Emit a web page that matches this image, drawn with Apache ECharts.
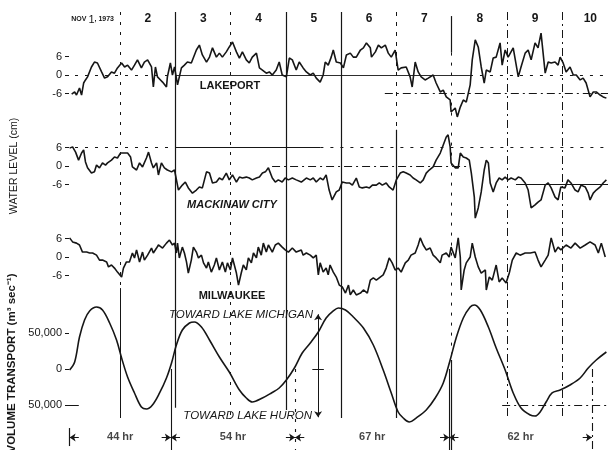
<!DOCTYPE html>
<html><head><meta charset="utf-8">
<script src="https://cdn.jsdelivr.net/npm/echarts@6/dist/echarts.min.js"></script>
<style>html,body{margin:0;padding:0;background:#fff}#c{width:608px;height:450px}</style>
</head><body><div id="c"></div>
<script>
// ---- tick labels / categories ----
const dayLabels = ['NOV 1, 1973','2','3','4','5','6','7','8','9','10'];
const waterTicks = [-6, 0, 6];
const transportTicks = [-50000, 0, 50000];
const dayBoundaries = [24, 48, 72, 96, 120, 144, 168, 192, 216]; // hours after Nov 1 00:00
const periodStart = 2;             // hours
const periodHours = [44, 54, 67, 62];

// ---- series (time in hours after Nov 1 00:00) ----
const tLake = [2.9,4.2,5.0,6.3,7.2,8.1,8.9,9.8,11.5,12.8,14.1,15.9,17.2,18.5,20.2,21.5,22.8,24.6,25.9,27.2,28.9,30.2,31.5,33.2,34.5,35.9,37.6,38.4,39.3,40.2,41.5,42.4,44.1,44.5,45.8,46.7,47.6,48.9,50.6,51.9,53.2,54.9,57.1,58.4,59.7,61.5,62.8,64.1,65.8,67.1,68.4,70.1,71.4,72.8,74.5,75.8,77.1,78.8,80.1,81.4,83.2,84.5,85.8,87.5,88.8,90.1,91.8,93.1,94.4,96.2,97.5,98.8,100.5,101.8,
103.5,104.9,106.6,107.9,109.2,110.9,112.2,113.1,114.4,115.7,116.6,117.9,119.7,121.0,122.3,124.0,125.3,126.6,128.4,129.7,131.0,132.7,133.2,134.9,136.2,137.5,139.2,140.5,141.8,143.5,144.8,146.1,148.3,150.0,150.9,152.2,153.5,154.8,156.5,157.9,160.0,161.3,163.1,164.4,165.7,167.4,167.8,169.6,170.5,171.8,173.1,174.4,176.1,177.0,178.3,179.6,180.9,182.2,183.1,184.8,186.1,187.4,189.1,190.0,191.3,192.6,194.8,197.0,198.2,200.0,201.3,202.6,204.3,205.6,206.9,208.7,210.0,211.3,213.0,214.3,215.2,216.5,217.8,219.5,220.9,222.2,223.9,225.2,226.5,228.2,229.6,230.9,232.6,233.9,235.3];
const vLake = [-6.2,-5.5,-6.5,-4.2,-6.5,-2.6,-1.6,-0.6,2.6,4.2,3.9,1.0,-1.0,-0.6,1.0,0.6,2.3,3.9,2.6,3.2,1.6,3.2,4.9,2.3,4.2,4.9,2.6,-3.9,2.6,-0.6,-1.6,-2.3,-3.9,-0.6,3.9,0,2.6,-3.2,2.3,3.2,4.2,3.9,8.1,9.7,6.5,4.2,5.8,8.8,5.8,7.1,5.8,7.5,9.1,10.7,7.5,5.5,7.5,4.9,3.9,5.8,7.1,2.3,1.6,0.6,1.0,0,1.6,4.2,0,-0.6,5.5,4.9,1.6,4.2,
2.3,1.0,0,0.6,-1.0,-2.3,0,4.2,3.2,5.8,8.1,4.2,3.9,2.3,6.5,7.1,5.8,5.8,8.1,8.8,10.4,8.8,5.8,7.5,9.7,8.8,9.7,7.1,5.8,8.1,1.6,2.3,2.6,-0.6,-3.9,4.2,1.0,-0.6,-1.6,-1.0,0,-2.6,-5.5,-4.9,-7.1,-8.1,-12.0,-10.7,-13.6,-10.4,-8.1,-8.8,-3.2,4.9,11.4,9.1,2.6,-2.6,1.6,1.0,5.5,5.8,10.4,3.2,8.1,5.8,8.8,-0.6,2.6,7.1,8.1,4.9,10.4,8.8,13.6,0.6,4.2,3.9,4.2,3.2,5.8,3.9,1.0,2.6,0,0,-1.6,-1.0,-2.6,-7.1,-5.5,-5.5,-6.5,-7.1,-7.5];

const tMack = [2.0,3.3,4.6,5.9,7.2,8.1,8.9,9.8,11.5,12.8,13.7,15.0,16.3,17.6,18.5,20.2,21.5,22.8,24.1,25.4,27.2,28.5,29.3,31.1,32.4,33.2,33.7,35.4,36.3,37.6,38.4,39.8,40.6,41.9,43.2,44.5,46.3,47.6,48.4,49.3,51.0,52.3,53.6,55.4,57.1,58.4,59.7,61.5,62.8,64.1,65.8,67.1,68.4,70.1,71.4,72.8,74.5,75.8,77.1,78.8,80.1,81.4,83.2,84.5,85.8,87.1,88.4,90.1,91.4,92.7,94.4,95.7,97.1,98.8,100.5,102.7,
103.5,104.9,106.6,107.9,109.2,110.9,112.2,113.5,114.8,116.1,117.9,119.2,120.5,122.3,123.6,124.9,126.6,127.9,129.2,131.0,132.3,133.6,135.3,136.6,137.9,139.6,140.9,142.6,144.0,145.7,147.0,148.3,150.0,151.3,152.6,154.4,155.7,157.0,158.3,160.0,161.3,163.1,164.4,165.7,166.5,167.4,167.8,169.6,170.9,171.8,173.1,174.4,175.7,176.6,177.9,178.3,179.6,180.9,182.2,183.1,184.0,184.8,186.1,187.4,188.7,190.0,191.3,192.6,193.9,195.7,197.0,198.2,200.0,201.3,202.6,204.3,205.6,206.9,208.7,210.0,211.3,213.0,214.3,215.5,217.3,218.6,219.9,221.7,223.0,224.3,226.1,227.4,228.2,229.6,230.9,232.6,233.9,235.3];
const vMack = [5.8,6.2,4.5,1.9,4.2,5.2,1.3,-0.6,-2.3,-1.9,0.3,-0.6,1.0,0.3,1.0,1.9,2.9,2.6,4.2,4.2,4.2,2.9,-0.3,-1.3,1.0,1.3,-0.3,2.6,4.5,1.0,-0.6,1.0,-2.9,1.0,-0.6,-1.3,-1.9,-1.3,-1.9,-7.8,-6.2,-5.2,-7.1,-8.8,-7.8,-6.8,-7.1,-1.9,-2.3,-5.5,-5.2,-3.9,-4.5,-2.3,-4.5,-2.9,-5.2,-3.6,-3.9,-3.6,-3.9,-4.5,-3.9,-3.6,-2.3,-1.9,-0.6,-3.9,-5.2,-4.5,-5.2,-3.9,-4.5,-3.9,-4.5,-5.2,
-5.2,-3.9,-4.5,-3.9,-5.2,-3.9,-4.5,-2.9,-7.8,-11.0,-8.4,-7.8,-5.2,-5.5,-5.5,-6.2,-3.9,-6.8,-7.1,-6.8,-7.1,-6.2,-6.2,-5.5,-6.2,-5.5,-6.8,-7.8,-4.5,-2.3,-1.9,-2.3,-2.9,-3.9,-4.5,-5.5,-4.5,-2.3,-1.3,-0.3,1.9,4.2,6.8,9.4,10.1,6.2,1.0,-0.6,-0.6,4.2,2.9,2.6,1.9,-2.3,-10.1,-16.9,-13.6,-8.4,-1.3,1.9,1.0,-5.5,-8.4,-5.5,-3.9,-4.5,-3.6,-4.5,-3.9,-4.5,-3.6,-3.9,-5.5,-7.8,-13.6,-12.6,-11.7,-11.0,-6.2,-5.5,-7.1,-10.1,-11.0,-6.8,-7.1,-4.5,-5.5,-7.8,-8.4,-6.2,-6.8,-8.8,-11.0,-8.8,-7.8,-6.8,-5.5,-4.5];

const tMilw = [2.0,3.3,5.0,6.3,7.6,9.4,10.7,12.0,13.7,15.0,16.3,18.1,18.9,20.2,21.5,22.8,24.6,25.4,26.7,28.0,29.3,30.2,31.1,32.4,33.7,34.5,35.9,37.6,38.4,39.8,40.6,42.4,44.1,45.4,46.7,47.6,48.4,48.9,49.7,51.0,51.9,52.8,53.6,54.9,55.8,57.1,58.0,59.3,60.2,61.5,62.3,63.6,64.9,65.8,67.1,68.4,69.7,70.6,71.9,72.8,74.5,75.4,76.6,77.5,78.8,79.7,81.0,81.9,83.2,84.0,85.3,86.2,87.5,88.4,90.1,91.4,92.7,94.4,95.7,97.1,98.8,100.5,102.7,
103.5,104.9,106.6,107.9,109.2,110.1,110.9,112.2,113.5,114.4,115.2,116.6,117.9,119.2,120.5,121.9,123.2,124.0,125.3,126.6,128.4,129.7,131.4,132.7,134.0,135.3,137.0,138.3,139.6,140.9,142.2,143.5,144.8,146.1,147.9,149.2,150.4,152.2,153.5,154.4,155.7,157.0,158.7,160.0,161.3,163.1,163.9,165.7,167.0,167.8,169.6,170.9,171.8,172.2,173.5,174.4,176.1,177.0,178.3,179.6,180.9,182.7,183.1,184.4,185.7,187.4,188.7,190.0,191.7,193.1,194.4,196.1,197.8,200.0,202.2,204.3,205.6,206.9,208.7,210.0,211.3,213.0,214.3,215.5,217.8,219.9,221.7,223.9,226.1,228.2,230.4,231.8,233.1,234.8];
const vMilw = [6.2,4.9,4.5,3.9,1.6,1.6,1.3,1.3,0.6,-1.0,-1.0,-1.6,-3.2,-2.6,-3.6,-4.9,-6.5,-3.6,-1.6,-1.6,1.3,-0.3,2.3,-1.6,1.6,-1.0,0.6,2.9,1.3,2.9,3.9,2.9,4.5,5.5,3.9,4.5,1.3,4.5,-0.3,3.2,1.3,-1.6,-5.2,-1.0,3.2,1.6,-0.3,0.6,-1.9,-3.6,-1.6,-4.9,-2.6,-0.3,-4.2,-1.6,-4.9,-1.9,-4.2,-0.3,-5.2,-9.1,-5.2,-2.6,-4.2,-0.3,-1.9,1.3,-0.3,3.2,0.6,4.5,1.6,3.9,1.6,3.9,4.5,3.2,2.3,1.6,2.9,1.6,2.3,
0.6,1.3,0.6,-0.3,0.6,-5.8,-1.9,-4.9,-3.6,-5.8,-2.6,-4.9,-6.5,-9.1,-9.7,-11.7,-9.1,-12.3,-10.7,-12.3,-11.7,-10.7,-11.7,-7.5,-6.8,-7.5,-6.5,-5.8,-3.6,-0.3,-1.9,-4.2,-3.6,-4.9,-1.9,-1.0,0.6,1.3,3.9,6.2,3.9,2.3,2.9,0.6,-0.3,-1.9,0.6,1.3,0,3.2,-0.3,6.2,0,-10.7,-4.2,-1.9,0,4.5,0,-3.2,-5.2,-4.2,-10.7,-6.5,-7.5,-2.6,-8.1,-6.8,-8.4,-5.2,-1.0,1.3,0.6,1.3,1.3,1.6,-1.0,-3.2,-1.0,0.6,6.2,1.6,3.2,2.3,3.9,2.9,4.5,2.9,3.9,4.9,3.9,1.3,4.5,0];

const tTrans = [2.0,4.2,6.3,8.5,10.7,13.7,16.3,19.4,22.4,24.6,27.2,30.2,33.2,35.4,38.0,41.1,44.1,46.3,48.4,51.0,54.1,56.2,59.3,62.8,67.1,71.4,75.8,78.8,81.4,85.8,89.7,93.1,96.2,99.7,103.1,
106.6,110.1,113.5,116.6,118.8,121.9,125.3,129.7,134.0,138.3,141.8,144.8,147.0,149.6,152.6,157.0,160.9,164.4,167.4,170.0,173.1,176.1,177.9,180.5,184.0,187.4,191.3,194.8,198.2,202.2,204.3,206.5,209.1,211.7,215.2,219.5,223.9,227.4,230.9,235.3];
const vTrans = [-1400,9700,44400,68100,80600,86100,81900,63900,40300,15300,-11100,-33300,-52800,-55600,-50000,-33300,-12500,8300,33300,54200,63900,65300,58300,40300,16700,-4200,-29200,-40300,-45800,-40300,-33300,-26400,-15300,1400,22200,
36100,51400,70800,80600,84700,81900,72200,56900,33300,-1400,-33300,-59700,-68100,-73600,-68100,-56900,-40300,-19400,12500,43100,70800,86100,88900,81900,58300,29200,-1400,-33300,-54200,-63900,-65300,-59700,-45800,-33300,-29200,-22200,-12500,1400,12500,23600];

// ---- helpers ----
const FONT = '"Liberation Sans", Arial, Helvetica, sans-serif';
const INK = '#161616';
const DASH = [3, 7], DASHDOT = [8, 4, 2, 4];
function pairs(t, v) { return t.map((x, i) => [x, v[i]]); }
function seg(x1, y1, x2, y2, type, w) {
  const ls = { type: type || 'solid', width: w || 1, color: INK };
  return [{ coord: [x1, y1], lineStyle: ls }, { coord: [x2, y2], lineStyle: ls }];
}
function arrow(x1, y1, x2, y2) {
  const ls = { type: 'solid', width: 1, color: INK };
  return [{ coord: [x1, y1], symbol: 'none', lineStyle: ls }, { coord: [x2, y2], symbol: 'arrow', lineStyle: ls }];
}
function mk(data) {
  return { silent: true, animation: false, symbol: ['none', 'none'], symbolSize: 6,
    label: { show: false }, emphasis: { disabled: true }, data: data };
}

// period boundaries from start + durations
const bounds = [periodStart];
periodHours.forEach(h => bounds.push(bounds[bounds.length - 1] + h));
const YB = -95000;

const GL = 65, GW = 543;
const grids = [
  { left: GL, width: GW, top: 19.5, height: 111 },
  { left: GL, width: GW, top: 110.5, height: 111 },
  { left: GL, width: GW, top: 201.5, height: 111 },
  { left: GL, width: GW, top: 297, height: 180 },
  { left: GL, width: 553, top: 30, height: 1 },
  { left: GL, width: GW, top: 12, height: 406 }
].map(g => Object.assign(g, { containLabel: false, outerBoundsMode: 'none' }));

const valX = i => ({ type: 'value', gridIndex: i, min: 0, max: 236, show: false });
const xAxes = [valX(0), valX(1), valX(2), valX(3), {
  type: 'category', gridIndex: 4, position: 'top', data: dayLabels, boundaryGap: true,
  axisLine: { show: false }, axisTick: { show: false },
  axisLabel: {
    interval: 0, margin: 5, color: INK, fontFamily: FONT, fontSize: 12, fontWeight: 'bold',
    formatter: function (v, i) {
      if (i === 0) {
        const m = v.match(/^(\S+)\s+(\d+)(.*)$/);
        return '{s|' + m[1] + ' }{n|' + m[2] + '}{s|' + m[3] + '}';
      }
      return v;
    },
    rich: {
      s: { fontSize: 7, fontWeight: 'bold', color: INK, fontFamily: FONT },
      n: { fontSize: 11, fontWeight: 'normal', color: INK, fontFamily: FONT }
    }
  }
}, valX(5)];

const waterY = i => ({
  type: 'value', gridIndex: i, min: -18, max: 18,
  axisLine: { show: false }, splitLine: { show: false },
  axisTick: { show: true, inside: true, length: 4, customValues: waterTicks, lineStyle: { color: INK, width: 1 } },
  axisLabel: { customValues: waterTicks, margin: 3, fontSize: 11, color: INK, fontFamily: FONT }
});
const yAxes = [waterY(0), waterY(1), waterY(2), {
  type: 'value', gridIndex: 3, min: -150000, max: 100000,
  axisLine: { show: false }, splitLine: { show: false },
  axisTick: { show: true, inside: true, length: 4, customValues: transportTicks, lineStyle: { color: INK, width: 1 } },
  axisLabel: { customValues: transportTicks, margin: 3, fontSize: 11, color: INK, fontFamily: FONT,
    formatter: v => v === 0 ? '0' : Math.abs(v).toLocaleString('en-US') }
}, { type: 'value', gridIndex: 4, show: false },
   { type: 'value', gridIndex: 5, min: 0, max: 1, show: false }];

function lineSeries(i, t, v, marks, smooth) {
  return {
    type: 'line', xAxisIndex: i, yAxisIndex: i, data: pairs(t, v),
    symbol: 'none', showSymbol: false, smooth: smooth || false, clip: false,
    lineStyle: { color: INK, width: 1.6 }, silent: true,
    markLine: mk(marks)
  };
}

const d = dayBoundaries;
const overlayMarks = [
  seg(d[0], 1, d[0], 0.32, DASH), seg(d[0], 0.32, d[0], 0, 'solid'),
  seg(d[1], 1, d[1], 0.025, 'solid', 1.2),
  seg(d[2], 1, d[2], 0, DASH),
  seg(d[3], 1, d[3], 0.02, 'solid', 1.2),
  seg(d[4], 1, d[4], 0, 'solid', 1.2),
  seg(d[5], 1, d[5], 0.71, [4, 6]), seg(d[5], 0.71, d[5], 0, 'solid', 1.2),
  seg(d[6], 0.99, d[6], 0.9, 'solid', 1.2), seg(d[6], 0.9, d[6], 0.14, DASH),
  seg(d[7], 1, d[7], 0, DASHDOT),
  seg(d[8], 1, d[8], 0, DASHDOT)
];

const lakeMarks = [
  seg(0, 0, 48, 0, DASH), seg(48, 0, 176, 0, 'solid', 0.9), seg(176, 0, 236, 0, DASH),
  seg(139, -6, 236, -6, DASHDOT)
];
const mackMarks = [
  seg(0, 6, 48, 6, DASH), seg(48, 6, 111, 6, 'solid'), seg(111, 6, 236, 6, DASH),
  seg(90, 0, 176, 0, DASHDOT), seg(196, -6, 236, -6, 'solid')
];
const barStyles = ['solid', 'solid', DASH, 'solid', DASHDOT];
const transMarks = [
  seg(0, -50000, 6, -50000, 'solid'), seg(190, -50000, 236, -50000, DASHDOT),
  arrow(110, 0, 110, 76000), arrow(110, 0, 110, -67000), seg(107.5, 0, 112.5, 0, 'solid'),
  seg(168, 12500, 168, -112500, 'solid', 1.2)
];
bounds.forEach((b, i) => {
  if (i === 0) transMarks.push(seg(b, -82000, b, -107000, 'solid', 1.2));
  else transMarks.push(seg(b, 0, b, -112500, barStyles[i], 1.1));
});
for (let i = 0; i < periodHours.length; i++) {
  transMarks.push(arrow(bounds[i] + 4, YB, bounds[i], YB));
  transMarks.push(arrow(bounds[i + 1] - 4, YB, bounds[i + 1], YB));
}

const series = [
  lineSeries(0, tLake, vLake, lakeMarks),
  lineSeries(1, tMack, vMack, mackMarks),
  lineSeries(2, tMilw, vMilw, []),
  lineSeries(3, tTrans, vTrans, transMarks, 0.35),
  { type: 'line', xAxisIndex: 5, yAxisIndex: 5, data: [[0, 0.5]], symbol: 'none', silent: true,
    lineStyle: { opacity: 0 }, markLine: mk(overlayMarks) },
  { type: 'scatter', xAxisIndex: 3, yAxisIndex: 3, silent: true, symbolSize: 1,
    itemStyle: { color: 'rgba(0,0,0,0)' }, clip: false,
    data: periodHours.map((h, i) => ({ value: [(bounds[i] + bounds[i + 1]) / 2, YB], name: h + ' hr' })),
    label: { show: true, position: 'inside', formatter: '{b}', fontSize: 11, fontWeight: 'bold', color: INK, fontFamily: FONT } }
];

const txt = (x, y, text, extra, rot) => ({
  type: 'text', x: x, y: y, rotation: rot || 0, silent: true,
  style: Object.assign({ text: text, fill: INK, fontFamily: FONT, fontSize: 11, align: 'center', verticalAlign: 'middle' }, extra || {})
});
const graphic = [
  txt(230, 86, 'LAKEPORT', { fontWeight: 'bold' }),
  txt(232, 205, 'MACKINAW CITY', { fontWeight: 'bold', fontStyle: 'italic' }),
  txt(232, 296, 'MILWAUKEE', { fontWeight: 'bold' }),
  txt(313, 315, 'TOWARD LAKE MICHIGAN', { fontStyle: 'italic', fontSize: 11.5, align: 'right' }),
  txt(312, 416, 'TOWARD LAKE HURON', { fontStyle: 'italic', fontSize: 11.5, align: 'right' }),
  txt(14, 166, 'WATER LEVEL (cm)', { fontSize: 10.5 }, Math.PI / 2),
  txt(12, 363, 'VOLUME TRANSPORT (m³ sec⁻¹)', { fontSize: 11.5, fontWeight: 'bold' }, Math.PI / 2)
];

const chart = echarts.init(document.getElementById('c'), null, { renderer: 'canvas' });
chart.setOption({
  backgroundColor: '#ffffff', animation: false,
  grid: grids, xAxis: xAxes, yAxis: yAxes, series: series, graphic: graphic
});
</script></body></html>
